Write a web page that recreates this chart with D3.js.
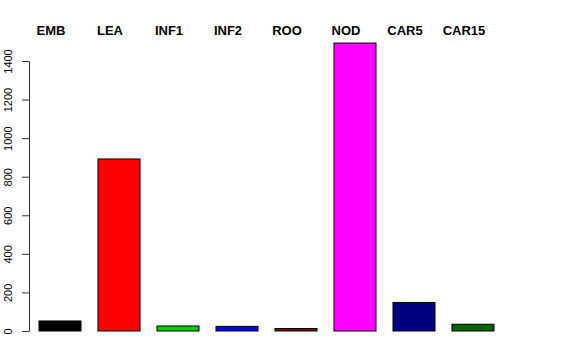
<!DOCTYPE html>
<html lang="en">
<head>
    <meta charset="UTF-8">
    <title>Barplot</title>
    <script src="https://d3js.org/d3.v7.min.js"></script>
    <style>
        body { margin: 0; background: #fff; }
        text { font-family: "Liberation Sans", Arial, Helvetica, sans-serif; }
    </style>
</head>
<body>
    <svg width="576" height="360"></svg>
    <script>
        // data
        const categories = ["EMB", "LEA", "INF1", "INF2", "ROO", "NOD", "CAR5", "CAR15"];
        const values = [52, 892, 26, 24, 13, 1493, 148, 35];
        const colors = ["#000000", "#FF0000", "#00CD00", "#0000FF", "#8B0000", "#FF00FF", "#000080", "#006400"];
        const yTicks = [0, 200, 400, 600, 800, 1000, 1200, 1400];

        const svg = d3.select("svg");

        const x = d3.scaleBand()
            .domain(categories)
            .range([30.5, 502.5])
            .paddingInner(0.288)
            .paddingOuter(0.144);

        const y = d3.scaleLinear().domain([0, 1400]).range([331, 61]);

        // y axis
        const axis = svg.append("g")
            .attr("transform", "translate(29,0)")
            .call(d3.axisLeft(y).tickValues(yTicks).tickSize(7).tickSizeOuter(0).tickFormat(d3.format("d")));
        axis.select(".domain").attr("stroke", "#333");
        axis.selectAll(".tick line").attr("stroke", "#333");
        axis.selectAll(".tick text")
            .attr("x", null)
            .attr("dy", null)
            .attr("transform", "translate(-17,0) rotate(-90)")
            .attr("text-anchor", "middle")
            .attr("fill", "#000")
            .style("font-size", "11px")
            .style("font-family", "Liberation Sans, Arial, sans-serif");

        // bars
        svg.append("g").selectAll("rect")
            .data(categories)
            .join("rect")
            .attr("x", d => x(d))
            .attr("width", x.bandwidth())
            .attr("y", (d, i) => y(values[i]))
            .attr("height", (d, i) => y(0) - y(values[i]))
            .attr("fill", (d, i) => colors[i])
            .attr("stroke", "#000")
            .attr("stroke-width", 1);

        // labels on top
        svg.append("g").selectAll("text")
            .data(categories)
            .join("text")
            .attr("x", d => x(d) + x.bandwidth() / 2 - 9)
            .attr("y", 35)
            .attr("text-anchor", "middle")
            .attr("font-weight", "bold")
            .attr("font-size", 13)
            .text(d => d);
    </script>
</body>
</html>
